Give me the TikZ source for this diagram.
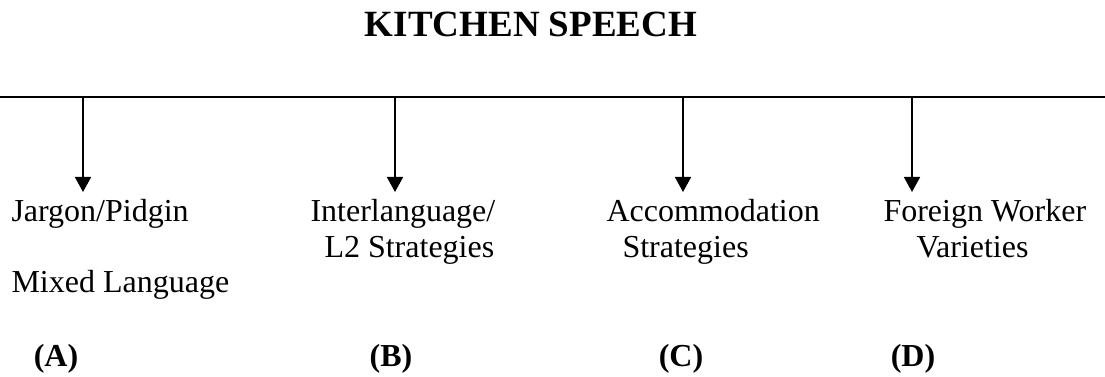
\documentclass[tikz,border=0pt]{standalone}
\usepackage{fontspec}
\setmainfont{Liberation Serif}
\usetikzlibrary{arrows.meta}

\tikzset{
    label/.style={anchor=base west, inner sep=0pt, font=\fontsize{12.8}{15}\selectfont},
    tag/.style={anchor=base, inner sep=0pt, font=\fontsize{12.8}{15}\selectfont\bfseries},
    down/.style={-{Triangle[length=6pt, width=6.4pt]}, line width=0.7pt},
}

\begin{document}
\begin{tikzpicture}[x=0.4pt, y=-0.4pt]
    \useasboundingbox (0, 0) rectangle (1105, 377);

    % title
    \node[anchor=base, inner sep=0pt, font=\fontsize{14.8}{18}\selectfont\bfseries] (title) at (531, 37) {KITCHEN SPEECH};

    % main line
    \coordinate (left) at (0, 97);
    \coordinate (right) at (1105, 97);
    \draw[line width=0.7pt] (left) -- (right);

    % arrows down from the line
    \coordinate (topA) at (83, 97);
    \coordinate (topB) at (395, 97);
    \coordinate (topC) at (683, 97);
    \coordinate (topD) at (912, 97);
    \coordinate (tipA) at (83, 192);
    \coordinate (tipB) at (395, 192);
    \coordinate (tipC) at (683, 192);
    \coordinate (tipD) at (912, 192);
    \draw[down] (topA) -- (tipA);
    \draw[down] (topB) -- (tipB);
    \draw[down] (topC) -- (tipC);
    \draw[down] (topD) -- (tipD);

    % labels
    \node[label] (jargon) at (11, 222) {Jargon/Pidgin};
    \node[label] (mixed) at (11, 293) {Mixed Language};
    \node[label] (inter) at (310, 222) {Interlanguage/};
    \node[label] (l2) at (324, 258) {L2 Strategies};
    \node[label] (accom) at (606, 222) {Accommodation};
    \node[label] (accstr) at (622, 258) {Strategies};
    \node[label] (foreign) at (883, 222) {Foreign Worker};
    \node[label] (variet) at (916, 258) {Varieties};

    % letters
    \node[tag] (tagA) at (56, 367) {(A)};
    \node[tag] (tagB) at (391, 367) {(B)};
    \node[tag] (tagC) at (681, 367) {(C)};
    \node[tag] (tagD) at (913, 367) {(D)};
\end{tikzpicture}
\end{document}
